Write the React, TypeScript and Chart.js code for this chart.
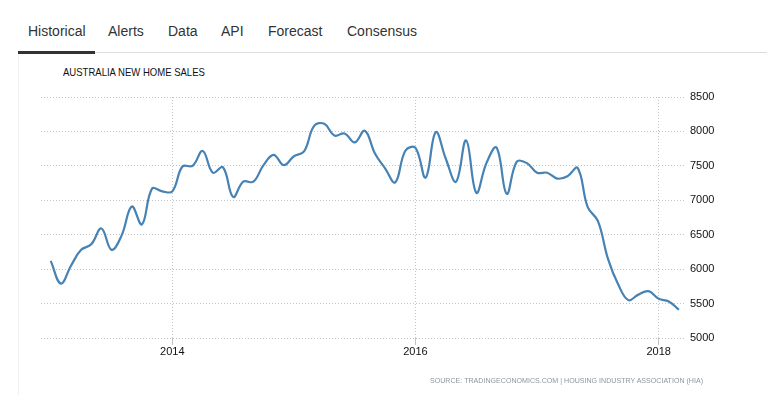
import React, { useEffect, useRef } from "react";
import { Chart, registerables } from "chart.js";

Chart.register(...registerables);

const tabs = ["Historical", "Alerts", "Data", "API", "Forecast", "Consensus"];
const tabLefts = [28, 108, 168, 221, 268, 347];

const title = "AUSTRALIA NEW HOME SALES";
const source = "SOURCE: TRADINGECONOMICS.COM | HOUSING INDUSTRY ASSOCIATION (HIA)";

const startYear = 2013;
const yearTicks = [2014, 2016, 2018];
const yTickValues = [5000, 5500, 6000, 6500, 7000, 7500, 8000, 8500];

// Monthly values, Jan 2013 .. Mar 2018
const sales = [
  6120, 5790, 6050, 6280, 6360, 6590, 6280, 6490, 6910, 6650, 7170, 7130,
  7130, 7490, 7500, 7715, 7400, 7480, 7050, 7270, 7270, 7510, 7660, 7510,
  7640, 7710, 8080, 8110, 7940, 7970, 7840, 8010, 7680, 7465, 7260, 7720,
  7760, 7330, 7990, 7600, 7270, 7870, 7110, 7540, 7765, 7095, 7560, 7540,
  7400, 7400, 7315, 7350, 7470, 6900, 6700, 6150, 5780, 5550, 5630, 5680,
  5570, 5530, 5410,
];

export default function App() {
  const ref = useRef<HTMLCanvasElement | null>(null);

  useEffect(() => {
    document.body.style.margin = "0";
    if (!ref.current) return;
    const points = sales.map((v, i) => ({ x: i, y: v }));
    const chart = new Chart(ref.current, {
      type: "line",
      data: {
        datasets: [
          {
            data: points,
            borderColor: "#4682b4",
            borderWidth: 2.2,
            pointRadius: 0,
            tension: 0.4,
            fill: false,
          },
        ],
      },
      options: {
        animation: false,
        responsive: false,
        maintainAspectRatio: false,
        layout: { padding: { top: 17, left: 41, right: 0, bottom: 0 } },
        plugins: { legend: { display: false }, tooltip: { enabled: false } },
        scales: {
          x: {
            type: "linear",
            min: -0.96,
            max: 62.6,
            afterBuildTicks: (scale: any) => {
              scale.ticks = yearTicks.map((y) => ({ value: (y - startYear) * 12 }));
            },
            afterFit: (scale: any) => {
              scale.height = 42;
            },
            ticks: {
              autoSkip: false,
              maxRotation: 0,
              padding: 0,
              color: "#111",
              font: { family: "Arial, 'Liberation Sans', sans-serif", size: 11 },
              callback: (v: any) => String(startYear + Math.round(Number(v) / 12)),
            },
            grid: {
              color: "#c4c4c4",
              lineWidth: 1,
              tickLength: 7,
              drawTicks: true,
            },
            border: { display: false, dash: [1, 2] },
          },
          y: {
            position: "right",
            min: 5000,
            max: 8500,
            afterBuildTicks: (scale: any) => {
              scale.ticks = yTickValues.map((v) => ({ value: v }));
            },
            afterFit: (scale: any) => {
              scale.width = 82;
            },
            ticks: {
              padding: 5,
              color: "#111",
              font: { family: "Arial, 'Liberation Sans', sans-serif", size: 11 },
              callback: (v: any) => String(v),
            },
            grid: { color: "#c4c4c4", lineWidth: 1, drawTicks: false },
            border: { display: false, dash: [1, 2] },
          },
        },
      },
    });
    return () => chart.destroy();
  }, []);

  return (
    <div style={{ position: "relative", width: 767, height: 395, background: "#fff", overflow: "hidden", fontFamily: "Arial, 'Liberation Sans', sans-serif" }}>
      {tabs.map((t, i) => (
        <span
          key={t}
          style={{ position: "absolute", left: tabLefts[i], top: 23, fontSize: 14, lineHeight: "16px", color: "#333", whiteSpace: "nowrap" }}
        >
          {t}
        </span>
      ))}
      <div style={{ position: "absolute", left: 95, top: 52, width: 672, height: 1, background: "#ddd" }} />
      <div style={{ position: "absolute", left: 18, top: 51, width: 77, height: 3, background: "#333" }} />
      <div style={{ position: "absolute", left: 18, top: 54, width: 1, height: 341, background: "#f0f0f0" }} />
      <span style={{ position: "absolute", left: 63, top: 65.5, fontSize: 11, lineHeight: "13px", color: "#111", whiteSpace: "nowrap", transform: "scaleX(0.866)", transformOrigin: "0 0" }}>
        {title}
      </span>
      <canvas ref={ref} width={767} height={300} style={{ position: "absolute", left: 0, top: 80, width: 767, height: 300 }} />
      <span style={{ position: "absolute", left: 430, top: 375.5, fontSize: 8, lineHeight: "10px", color: "#8c96a0", whiteSpace: "nowrap", transform: "scaleX(0.886)", transformOrigin: "0 0" }}>
        {source}
      </span>
    </div>
  );
}
